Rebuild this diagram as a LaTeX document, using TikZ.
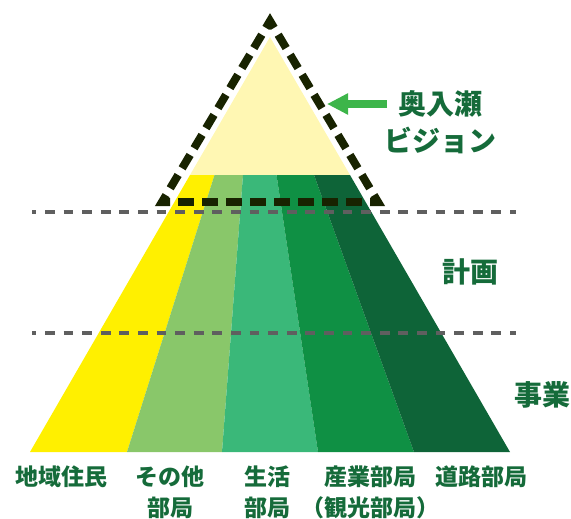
\documentclass[tikz,border=0pt]{standalone}
\usepackage{fontspec}
\newfontfamily\jp{Noto Sans CJK JP}
\usetikzlibrary{arrows.meta,calc}
\definecolor{paleyellow}{HTML}{FFF7B3}
\definecolor{bandA}{HTML}{FFF000}
\definecolor{bandB}{HTML}{89C76A}
\definecolor{bandC}{HTML}{3AB879}
\definecolor{bandD}{HTML}{0F9044}
\definecolor{bandE}{HTML}{0E6438}
\definecolor{txtgreen}{HTML}{156B3A}
\definecolor{arrgreen}{HTML}{3DB54A}
\definecolor{dashblack}{HTML}{182300}
\definecolor{dashgray}{HTML}{5F5F5F}
\tikzset{
  lbl/.style={font=\jp\bfseries\fontsize{23}{31}\selectfont, text=txtgreen, inner sep=0pt, align=center},
  biglbl/.style={font=\jp\bfseries\fontsize{28}{37}\selectfont, text=txtgreen, inner sep=0pt, align=center},
  grayline/.style={draw=dashgray, line width=4pt, dash pattern=on 9.7pt off 8.9pt, dash phase=5.6pt},
  thickdash/.style={draw=dashblack, line width=8pt},
}
\begin{document}
\begin{tikzpicture}[x=1pt,y=-1pt]
\useasboundingbox (0,0) rectangle (571,519);
% pale top triangle
\fill[paleyellow] (270,37) -- (190,175) -- (350,175) -- cycle;
% bands
\fill[bandA] (190,175) -- (214.5,175) -- (127,452) -- (30,452) -- cycle;
\fill[bandB] (214.5,175) -- (243,175) -- (222,452) -- (127,452) -- cycle;
\fill[bandC] (243,175) -- (276.5,175) -- (318,452) -- (222,452) -- cycle;
\fill[bandD] (276.5,175) -- (314,175) -- (414,452) -- (318,452) -- cycle;
\fill[bandE] (314,175) -- (350,175) -- (510,452) -- (414,452) -- cycle;
% gray dashed level lines
\coordinate (g1a) at (32,212); \coordinate (g1b) at (515.7,212);
\coordinate (g2a) at (32,333); \coordinate (g2b) at (515.7,333);
\draw[grayline] (g1a) -- (g1b);
\draw[grayline] (g2a) -- (g2b);
% thick dashed triangle
\coordinate (A) at (270,21);
\coordinate (B) at (162,202);
\coordinate (C) at (378,202);
\draw[thickdash, dash pattern=on 15.5pt off 7.83pt] ($(A)!16pt!(B)$) -- ($(B)!16pt!(A)$);
\draw[thickdash, dash pattern=on 15.5pt off 7.83pt] ($(A)!16pt!(C)$) -- ($(C)!16pt!(A)$);
\draw[thickdash, dash pattern=on 15.5pt off 8.57pt] ($(B)!16pt!(C)$) -- ($(C)!16pt!(B)$);
\draw[thickdash, line join=miter] ($(A)!8pt!(B)$) -- (A) -- ($(A)!8pt!(C)$);
\draw[thickdash, line join=miter] ($(B)!8pt!(A)$) -- (B) -- ($(B)!8pt!(C)$);
\draw[thickdash, line join=miter] ($(C)!8pt!(A)$) -- (C) -- ($(C)!8pt!(B)$);
% arrow and labels
\node[biglbl] (vision) at (440,122.5) {奥入瀬\\ビジョン};
\coordinate (arrS) at (387,104);
\coordinate (arrE) at (327,104);
\draw[arrgreen, line width=8pt, -{Triangle[length=21pt,width=20pt]}] (arrS) -- (arrE);
\node[biglbl] (plan) at (470,272) {計画};
\node[biglbl] (proj) at (542,395) {事業};
\node[lbl] (l1) at (61.5,477) {地域住民};
\node[lbl] (l2) at (170,492.5) {その他\\部局};
\node[lbl] (l3) at (267,492.5) {生活\\部局};
\node[lbl] (l4) at (370,492.5) {産業部局\\（観光部局）};
\node[lbl] (l5) at (481,477) {道路部局};
\end{tikzpicture}
\end{document}
